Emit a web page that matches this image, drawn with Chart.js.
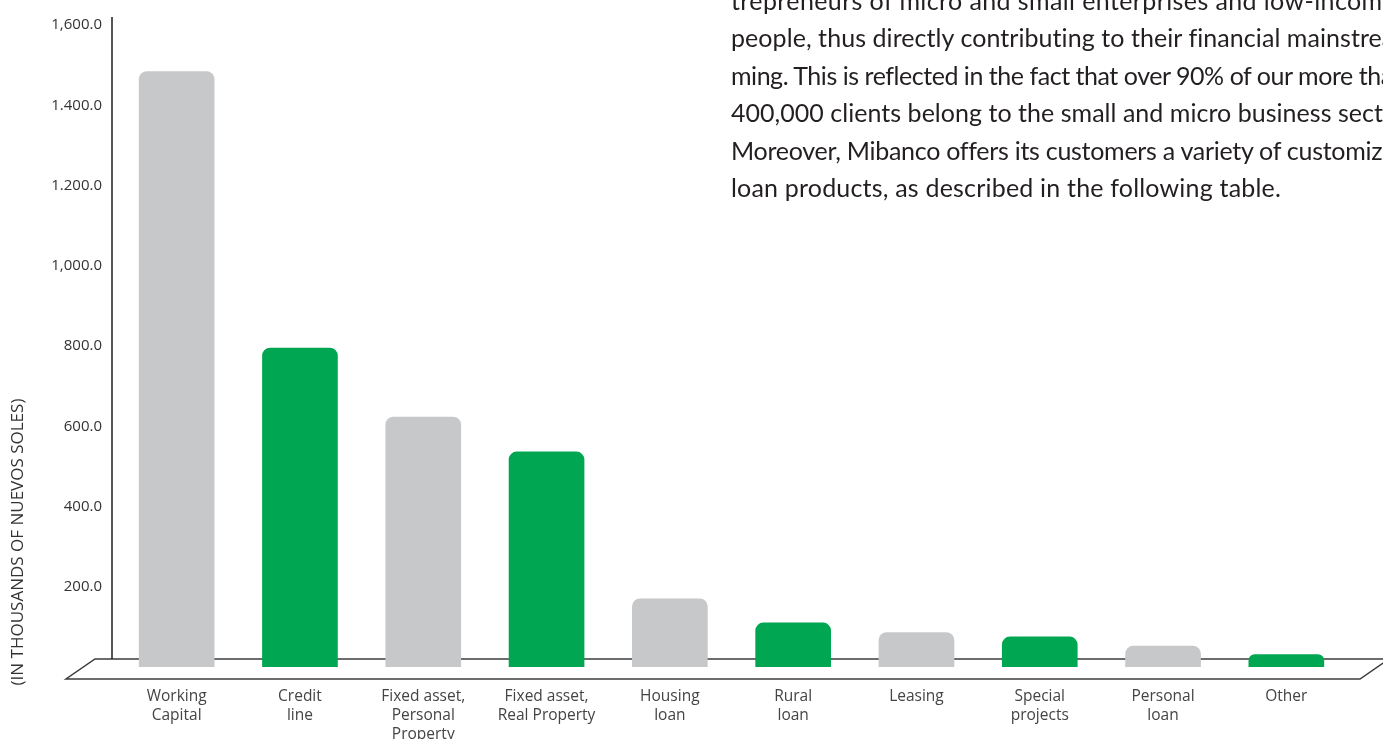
<!DOCTYPE html>
<html lang="en">
<head>
    <meta charset="UTF-8">
    <title>Mibanco loan products</title>
    <script src="https://cdn.jsdelivr.net/npm/chart.js"></script>
    <style>
        html, body { margin:0; padding:0; background:#fff; overflow:hidden; }
        #wrap { position:relative; width:1383px; height:739px; overflow:hidden; }
        #loans { position:absolute; left:0; top:0; }
        #intro { position:absolute; left:731px; top:-18px; font-family:"Lato"; font-size:25px;
                 line-height:37.4px; color:#231f20; }
        #intro div { white-space:nowrap; }
    </style>
</head>
<body>

<div id="wrap">
    <canvas id="loans" width="1383" height="739"></canvas>
    <div id="intro"></div>
</div>

<script>
// loan products (thousands of nuevos soles)
const categories = [
  ['Working', 'Capital'],
  ['Credit', 'line'],
  ['Fixed asset,', 'Personal', 'Property'],
  ['Fixed asset,', 'Real Property'],
  ['Housing', 'loan'],
  ['Rural', 'loan'],
  'Leasing',
  ['Special', 'projects'],
  ['Personal', 'loan'],
  'Other'
];
const amounts = [1484, 795, 623, 536, 170, 110, 86, 75, 52, 31];
const yTickLabels = ['', '200.0', '400.0', '600.0', '800.0', '1,000.0', '1.200.0', '1.400.0', '1,600.0'];

const barColors = ['#c7c8ca', '#00a651'];

// paragraph beside the chart: [full line, part that reaches the right edge, where it ends]
const introLines = [
  ['trepreneurs of micro and small enterprises and low-income', 'trepreneurs of micro and small enterprises and low-incom', 1383],
  ['people, thus directly contributing to their financial mainstrea-', 'people, thus directly contributing to their financial mainstre', 1383],
  ['ming. This is reflected in the fact that over 90% of our more than', 'ming. This is reflected in the fact that over 90% of our more th', 1383],
  ['400,000 clients belong to the small and micro business sector.', '400,000 clients belong to the small and micro business sect', 1383],
  ['Moreover, Mibanco offers its customers a variety of customized', 'Moreover, Mibanco offers its customers a variety of customiz', 1383],
  ['loan products, as described in the following table.', 'loan products, as described in the following table.', 1281]
];

const intro = document.getElementById('intro');
const measure = document.createElement('canvas').getContext('2d');
measure.font = '25px "Lato"';
introLines.forEach(([text, part, end]) => {
  const div = document.createElement('div');
  div.textContent = text;
  const w = measure.measureText(part).width;
  div.style.letterSpacing = ((end - 731 - w) / part.length).toFixed(3) + 'px';
  intro.appendChild(div);
});

// 3d-ish floor under the bars plus the vertical axis line
const floor = {
  id: 'floor',
  beforeDatasetsDraw(chart) {
    const {ctx, chartArea, scales: {y}} = chart;
    const base = y.getPixelForValue(0);
    const back = base - 8, front = base + 12;
    ctx.save();
    ctx.strokeStyle = '#3c3c3c';
    ctx.lineWidth = 1.5;
    ctx.beginPath();
    ctx.moveTo(chart.width + 10, back);
    ctx.lineTo(chartArea.left - 20, back);
    ctx.lineTo(chartArea.left - 49, front);
    ctx.lineTo(chartArea.right + 12, front);
    ctx.lineTo(chartArea.right + 41, back);
    ctx.stroke();
    ctx.strokeStyle = '#1e1e1e';
    ctx.beginPath();
    ctx.moveTo(chartArea.left - 3, y.getPixelForValue(1620));
    ctx.lineTo(chartArea.left - 3, back);
    ctx.stroke();
    ctx.restore();
  }
};

const yTitle = {
  id: 'yTitle',
  afterDraw(chart) {
    const ctx = chart.ctx;
    ctx.save();
    ctx.translate(18, 542);
    ctx.rotate(-Math.PI / 2);
    ctx.font = '17px "Open Sans"';
    ctx.fillStyle = '#333';
    ctx.textAlign = 'center';
    ctx.textBaseline = 'middle';
    ctx.fillText('(IN THOUSANDS OF NUEVOS SOLES)', 0, 0);
    ctx.restore();
  }
};

const config = {
  type: 'bar',
  data: {
    labels: categories,
    datasets: [{
      data: amounts,
      backgroundColor: amounts.map((v, i) => barColors[i % 2]),
      barThickness: 75,
      borderRadius: 8,
      borderSkipped: 'start'
    }]
  },
  options: {
    responsive: false,
    animation: false,
    devicePixelRatio: 1,
    layout: { padding: { top: 25, right: 35, bottom: 0, left: 0 } },
    plugins: {
      legend: { display: false },
      tooltip: { enabled: false }
    },
    scales: {
      x: {
        grid: { display: false },
        border: { display: false },
        afterFit: function(scale) { scale.height = 72; },
        ticks: {
          autoSkip: false,
          maxRotation: 0,
          padding: 12,
          color: '#444',
          font: { family: 'Open Sans', size: 15.5, lineHeight: 1.22 }
        }
      },
      y: {
        min: 0,
        max: 1600,
        grid: { display: false },
        border: { display: false },
        afterFit: function(scale) { scale.width = 115; },
        ticks: {
          stepSize: 200,
          padding: 5,
          color: '#333',
          font: { family: 'Open Sans', size: 15 },
          callback: function(value, index) { return yTickLabels[index]; }
        }
      }
    }
  },
  plugins: [floor, yTitle]
};

var loansChart = new Chart(document.getElementById('loans'), config);
</script>

</body>
</html>
